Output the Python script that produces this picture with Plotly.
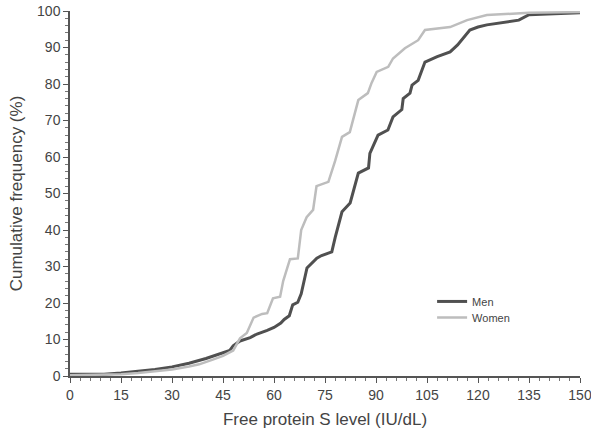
import plotly.graph_objects as go

men_x = [0, 10, 15, 20, 25, 30, 35, 40, 45, 47, 48, 50, 53, 55, 58, 60, 62, 63, 64.5, 65.5, 67, 68, 69.7, 72.6, 74, 77, 78, 80, 82.4, 84.8, 87.8, 88.2, 90.6, 93.5, 95, 97.6, 98, 100, 100.6, 102.4, 104.4, 108, 111.8, 114, 117.6, 120, 122.6, 128, 132, 135, 140, 150]
men_y = [0.5, 0.5, 0.8, 1.2, 1.8, 2.5, 3.5, 4.8, 6.3, 7.0, 8.3, 9.6, 10.5, 11.5, 12.5, 13.3, 14.5, 15.5, 16.5, 19.5, 20.2, 22.5, 29.6, 32.3, 33.0, 34.0, 38.0, 45.0, 47.4, 55.6, 57.0, 61.0, 66.0, 67.4, 71.0, 73.0, 76.0, 77.5, 79.7, 81.0, 86.0, 87.5, 88.8, 90.7, 94.8, 95.6, 96.2, 97.0, 97.5, 99.0, 99.2, 99.5]

women_x = [0, 10, 15, 20, 25, 30, 35, 38, 42, 45, 48, 50, 52, 54, 56.5, 58, 59.7, 61.8, 62.7, 64.7, 67, 68, 69.6, 71.5, 72.5, 76, 78, 80, 82.3, 84.8, 87.6, 88.7, 90.2, 93.6, 95, 98.5, 102.4, 104.4, 111.8, 116.8, 122.6, 135, 150]
women_y = [0.2, 0.3, 0.5, 0.8, 1.2, 1.8, 2.6, 3.2, 4.5, 5.5, 7.0, 10.3, 11.8, 16.0, 17.0, 17.2, 21.3, 21.7, 26.0, 32.0, 32.2, 40.0, 43.5, 45.5, 52.0, 53.2, 59.0, 65.5, 66.8, 75.6, 77.5, 80.3, 83.3, 84.7, 87.0, 89.8, 92.0, 94.8, 95.6, 97.5, 98.9, 99.5, 99.7]

x_ticks = [0, 15, 30, 45, 60, 75, 90, 105, 120, 135, 150]
y_ticks = [0, 10, 20, 30, 40, 50, 60, 70, 80, 90, 100]

fig = go.Figure()
fig.add_trace(go.Scatter(x=men_x, y=men_y, mode="lines", name="Men", legend="legend",
                         line=dict(color="#505050", width=3)))
fig.add_trace(go.Scatter(x=women_x, y=women_y, mode="lines", name="Women", legend="legend2",
                         line=dict(color="#bdbdbd", width=2.5)))

font_family = "Liberation Sans, Arial, sans-serif"
legend_style = dict(xanchor="left", yanchor="top", font=dict(size=11, color="#444444"),
                    bgcolor="rgba(0,0,0,0)")
fig.update_layout(
    width=591, height=443,
    margin=dict(l=70, r=11, t=11, b=67),
    paper_bgcolor="white", plot_bgcolor="white",
    font=dict(family=font_family, color="#444444", size=14),
    showlegend=True,
    legend=dict(x=0.71, y=0.244, **legend_style),
    legend2=dict(x=0.71, y=0.200, **legend_style),
)
fig.update_xaxes(
    range=[0, 150], tickvals=x_ticks, ticktext=[str(v) for v in x_ticks],
    automargin=False, ticklabeloverflow="allow",
    showgrid=False, zeroline=False, showline=True, linecolor="#555555", linewidth=1.5,
    ticks="outside", ticklen=5, tickcolor="#555555",
    minor=dict(dtick=3, ticks="outside", ticklen=3, tickcolor="#777777"),
    title=dict(text="Free protein S level (IU/dL)", font=dict(size=17, color="#444444"), standoff=12),
    tickfont=dict(size=14, color="#444444"),
)
fig.update_yaxes(
    range=[0, 100], tickvals=y_ticks, ticktext=[str(v) for v in y_ticks],
    automargin=False, ticklabeloverflow="allow",
    showgrid=False, zeroline=False, showline=True, linecolor="#555555", linewidth=1.5,
    ticks="outside", ticklen=5, tickcolor="#555555",
    minor=dict(dtick=2, ticks="outside", ticklen=3, tickcolor="#777777"),
    title=dict(text="Cumulative frequency (%)", font=dict(size=17, color="#444444"), standoff=10),
    tickfont=dict(size=14, color="#444444"),
)

fig.write_html("out.html", config={"displayModeBar": False},
               post_script="document.body.style.margin='0';document.body.style.overflow='hidden';")
